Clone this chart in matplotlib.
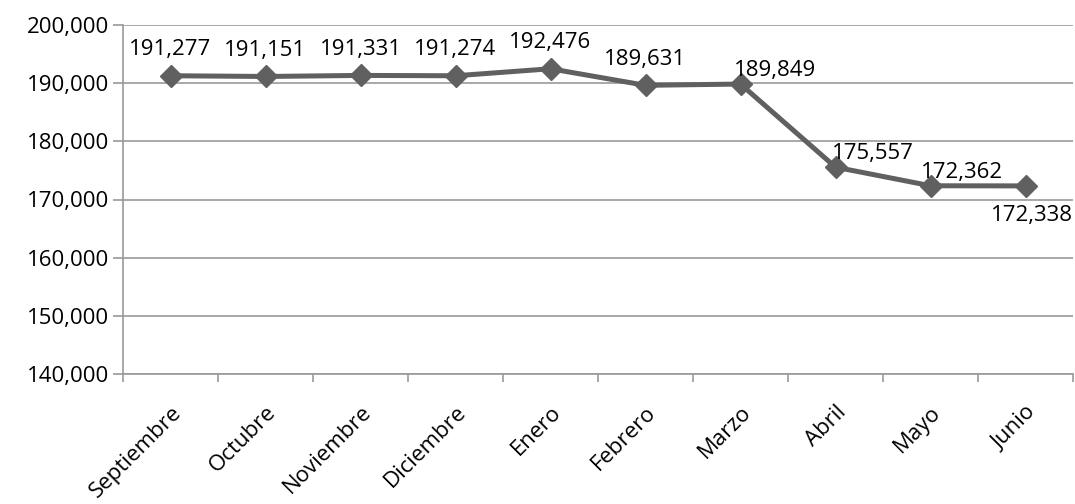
import matplotlib.pyplot as plt
import matplotlib.ticker as mticker
import numpy as np

plt.rcParams['font.family'] = ['Open Sans', 'DejaVu Sans']

meses = ["Septiembre", "Octubre", "Noviembre", "Diciembre", "Enero",
         "Febrero", "Marzo", "Abril", "Mayo", "Junio"]
valores = [191277, 191151, 191331, 191274, 192476,
           189631, 189849, 175557, 172362, 172338]

# desplazamiento de etiquetas (puntos) y alineación
offsets = [(0, 11), (0, 11), (0, 11), (0, 11), (0, 11),
           (0, 11), (25, 2), (27, 2), (23, 2), (34, -14)]
alineacion = ["center"] * 9 + ["right"]

fig = plt.figure(figsize=(10.75, 5.04), dpi=100)
ax = fig.add_axes([123/1075, 1-374/504, 950/1075, 349/504])

x = np.arange(len(meses))
ax.plot(x, valores, color="#606060", lw=3.6, marker="D", ms=11, zorder=3)

for xi, v, (dx, dy), ha in zip(x, valores, offsets, alineacion):
    ax.annotate(f"{v:,}", (xi, v), xytext=(dx, dy), textcoords="offset points",
                ha=ha, va="bottom" if dy > 0 else "top", fontsize=16,
                annotation_clip=False)

ax.set_xlim(-0.5, len(meses) - 0.5)
ax.set_ylim(140000, 200000)
ax.yaxis.set_major_locator(mticker.MultipleLocator(10000))
ax.yaxis.set_major_formatter(mticker.FuncFormatter(lambda v, p: f"{int(v):,}"))
ax.grid(axis="y", color="#999999", lw=1.2)
ax.set_axisbelow(True)

ax.set_xticks(x)
ax.set_xticklabels(meses, rotation=45, ha="right", va="top", rotation_mode="anchor", fontsize=16)
ax.tick_params(axis="x", length=0, pad=20)
ax.set_xticks(np.arange(-0.5, len(meses)), minor=True)
ax.tick_params(axis="x", which="minor", length=6, color="#999999", width=1.2)
ax.tick_params(axis="y", length=7, color="#999999", width=1.2, labelsize=16, pad=3)

for s in ["top", "right"]:
    ax.spines[s].set_visible(False)
for s in ["left", "bottom"]:
    ax.spines[s].set_color("#999999")
    ax.spines[s].set_linewidth(1.2)

fig.savefig("out.png", dpi=100)
